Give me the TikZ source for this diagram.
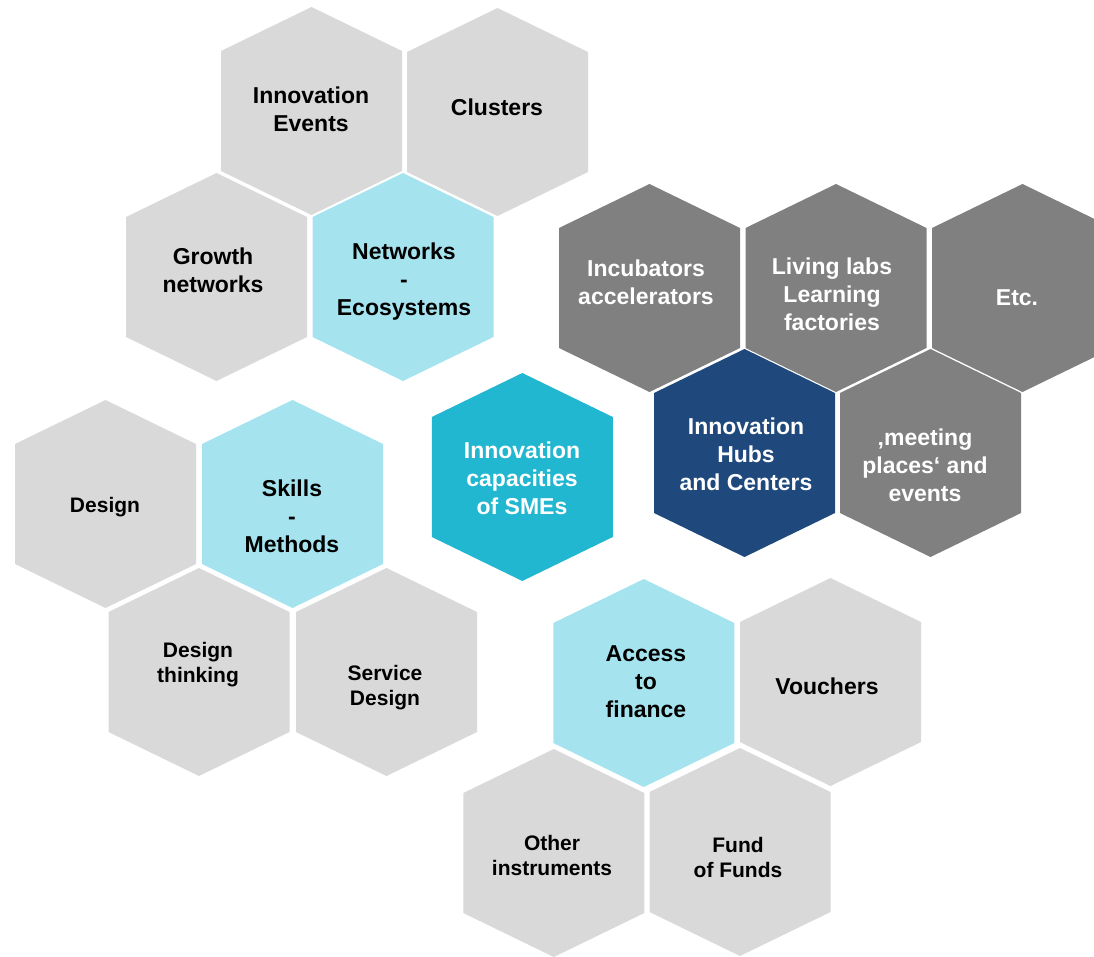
\documentclass[tikz,border=0pt]{standalone}
\usepackage{fontspec}
\setmainfont{Liberation Sans}
\definecolor{lgray}{HTML}{D9D9D9}
\definecolor{lcyan}{HTML}{A5E4EF}
\definecolor{ccore}{HTML}{22B7D0}
\definecolor{dgray}{HTML}{808080}
\definecolor{dblue}{HTML}{1F497D}
\newcommand{\hexcell}[4]{%
  \fill[#4] ({#2},{#3-104}) -- ({#2+90.5},{#3-60}) -- ({#2+90.5},{#3+60}) --
    ({#2},{#3+104}) -- ({#2-90.5},{#3+60}) -- ({#2-90.5},{#3-60}) -- cycle;
  \coordinate (#1) at ({#2},{#3});
}
\tikzset{
  biglabel/.style={align=center, inner sep=0pt, font=\bfseries\fontsize{23}{28}\selectfont},
  smalllabel/.style={align=center, inner sep=0pt, font=\bfseries\fontsize{21}{25}\selectfont},
  onlight/.style={text=black},
  ondark/.style={text=white}
}
\begin{document}
\begin{tikzpicture}[x=1pt,y=-1pt]
\useasboundingbox (0,0) rectangle (1094,957);
% hexagons
\hexcell{ev}{311.5}{111}{lgray}
\hexcell{cl}{497.5}{112}{lgray}
\hexcell{gr}{216.5}{277}{lgray}
\hexcell{nw}{403}{277}{lcyan}
\hexcell{inc}{649.5}{288}{dgray}
\hexcell{liv}{836}{288}{dgray}
\hexcell{etc}{1022.5}{288}{dgray}
\hexcell{hub}{744.5}{453}{dblue}
\hexcell{mp}{930.5}{453}{dgray}
\hexcell{core}{522.3}{477}{ccore}
\hexcell{des}{105.5}{504}{lgray}
\hexcell{sk}{292.5}{504}{lcyan}
\hexcell{dt}{199}{672}{lgray}
\hexcell{sd}{386.5}{672}{lgray}
\hexcell{acc}{643.8}{683}{lcyan}
\hexcell{vou}{830.5}{682}{lgray}
\hexcell{oth}{553.8}{853}{lgray}
\hexcell{fof}{740}{852}{lgray}
% labels
\node[biglabel,onlight] (tev) at (311,109.5) {Innovation\\Events};
\node[biglabel,onlight] (tcl) at (497,107) {Clusters};
\node[biglabel,onlight] (tgr) at (213,270) {Growth\\networks};
\node[biglabel,onlight] (tnw) at (404,282) {Networks\\-\\Ecosystems};
\node[biglabel,ondark] (tinc) at (646,282) {Incubators\\accelerators};
\node[biglabel,ondark] (tliv) at (832,294) {Living labs\\Learning\\factories};
\node[biglabel,ondark] (tetc) at (1017,298) {Etc.};
\node[biglabel,ondark] (thub) at (746,454) {Innovation\\Hubs\\and Centers};
\node[biglabel,ondark] (tmp) at (925,465) {‚meeting\\places‘ and\\events};
\node[biglabel,ondark] (tcore) at (522,478) {Innovation\\capacities\\of SMEs};
\node[smalllabel,onlight] (tdes) at (105,507) {Design};
\node[biglabel,onlight] (tsk) at (292,516) {Skills\\-\\Methods};
\node[smalllabel,onlight] (tdt) at (198,665) {Design\\thinking};
\node[smalllabel,onlight] (tsd) at (385,688) {Service\\Design};
\node[biglabel,onlight] (tacc) at (646,682) {Access\\to\\finance};
\node[biglabel,onlight] (tvou) at (827,686) {Vouchers};
\node[smalllabel,onlight] (toth) at (552,855) {Other\\instruments};
\node[smalllabel,onlight] (tfof) at (738,857) {Fund\\of Funds};
\end{tikzpicture}
\end{document}
